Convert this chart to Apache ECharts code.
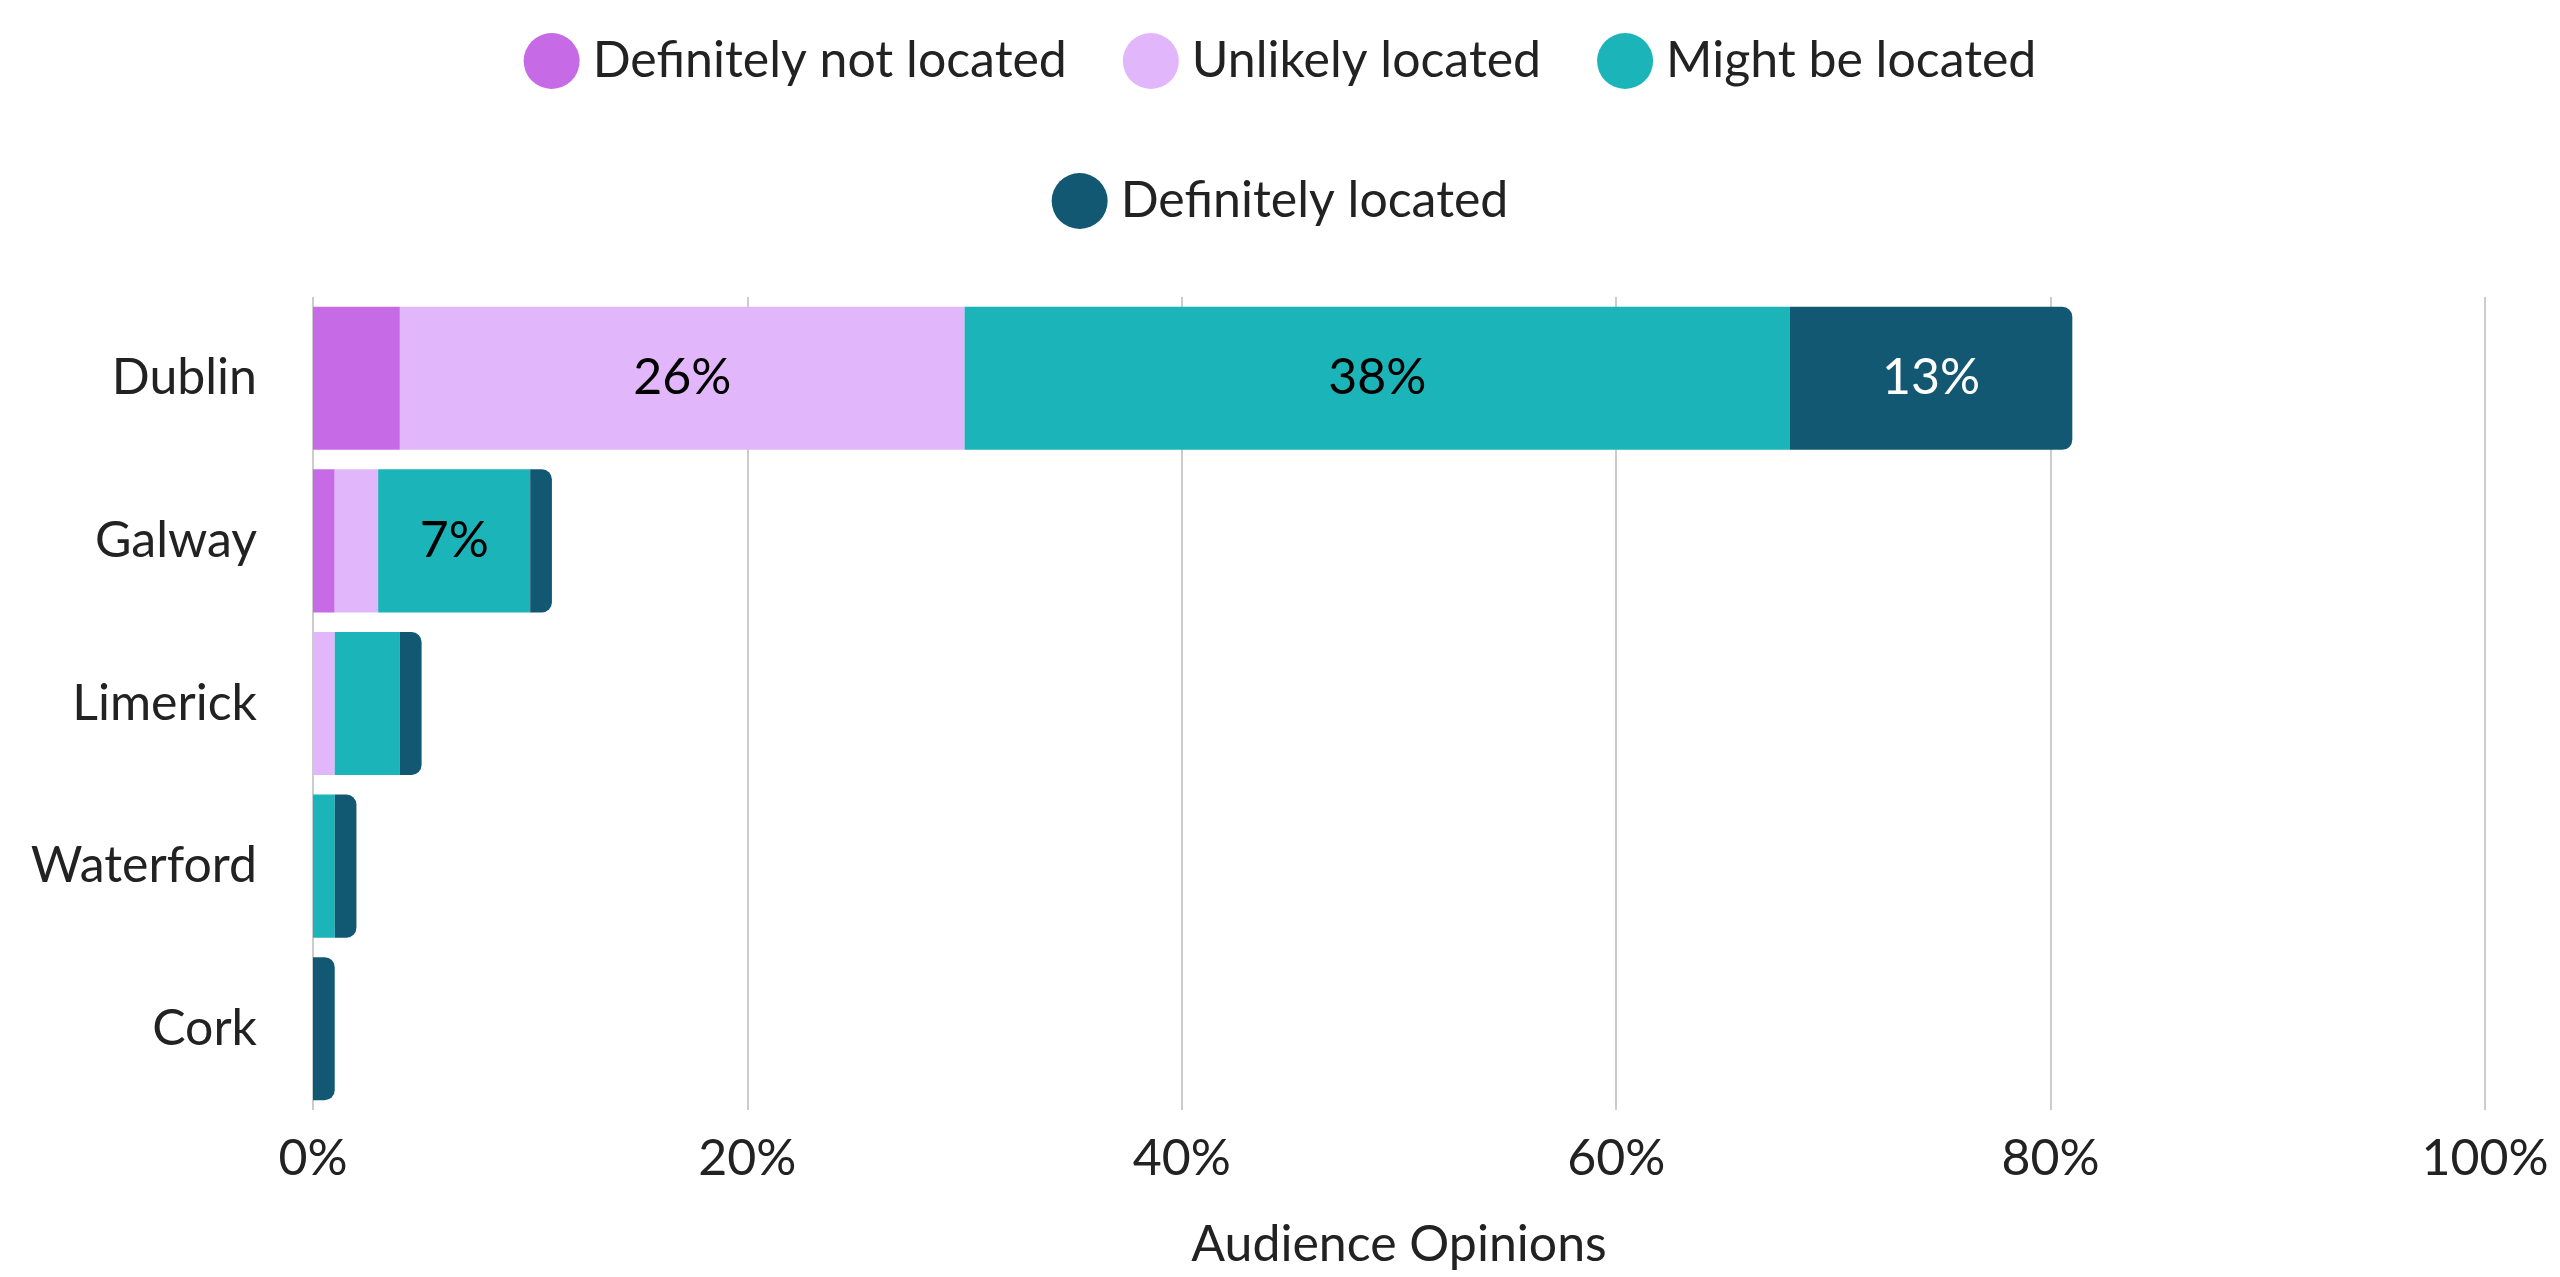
<!DOCTYPE html>
<html>
<head>
<meta charset="utf-8">
<script src="https://cdn.jsdelivr.net/npm/echarts@6/dist/echarts.min.js"></script>
<style>html,body{margin:0;padding:0;background:#fff}#c{width:2560px;height:1277px}</style>
</head>
<body>
<div id="c"></div>
<script>
const cities = ['Dublin', 'Galway', 'Limerick', 'Waterford', 'Cork'];
const notLocated = [4, 1, 0, 0, 0];
const unlikely = [26, 2, 1, 0, 0];
const might = [38, 7, 3, 1, 0];
const definitely = [13, 1, 1, 1, 1];
const xTicks = [0, 20, 40, 60, 80, 100];

const font = 'Lato';
const colors = ['#c76ae6', '#e2b6fb', '#1bb5b9', '#135873'];
const names = ['Definitely not located', 'Unlikely located', 'Might be located', 'Definitely located'];
const values = [notLocated, unlikely, might, definitely];
const labelColors = ['#000', '#000', '#000', '#fff'];

const chart = echarts.init(document.getElementById('c'));
const legendCommon = {
    left: 'center', icon: 'circle', itemWidth: 56, itemHeight: 56, itemGap: 56,
    textStyle: { fontFamily: font, fontSize: 50, color: '#222', padding: [0, 0, 0, 8] }
};
chart.setOption({
    animation: false,
    color: colors,
    legend: [
        Object.assign({ top: 28, data: names.slice(0, 3) }, legendCommon),
        Object.assign({ top: 168, data: names.slice(3) }, legendCommon)
    ],
    grid: { left: 313, right: 75, top: 297, bottom: 167 },
    xAxis: {
        type: 'value', min: 0, max: 100, interval: 20,
        name: 'Audience Opinions', nameLocation: 'middle', nameGap: 110,
        nameTextStyle: { fontFamily: font, fontSize: 50, color: '#222' },
        axisLine: { show: false }, axisTick: { show: false },
        axisLabel: { fontFamily: font, fontSize: 50, color: '#222', margin: 24,
            formatter: v => xTicks.includes(v) ? v + '%' : '' },
        splitLine: { lineStyle: { color: '#cccccc', width: 2 } }
    },
    yAxis: {
        type: 'category', data: cities, inverse: true,
        axisLine: { show: false }, axisTick: { show: false },
        axisLabel: { fontFamily: font, fontSize: 50, color: '#222', margin: 56 }
    },
    series: names.map((n, i) => ({
        name: n, type: 'bar', stack: 'total', barWidth: '88%',
        itemStyle: { color: colors[i], borderRadius: i === 3 ? [0, 10, 10, 0] : 0 },
        label: {
            show: true, position: 'inside', fontFamily: font, fontSize: 50, color: labelColors[i],
            formatter: p => p.value >= 5 ? p.value + '%' : ''
        },
        data: values[i]
    }))
});
</script>
</body>
</html>
